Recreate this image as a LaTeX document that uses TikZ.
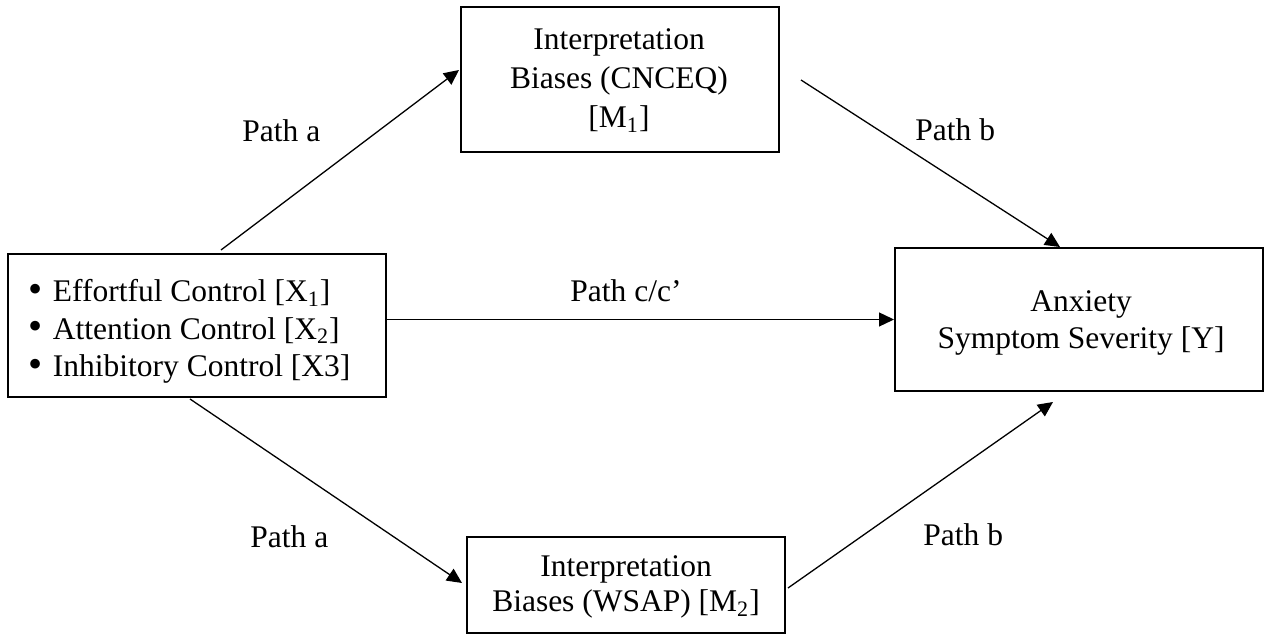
\documentclass[tikz,border=0pt]{standalone}
\usepackage{fontspec}
\usepackage{graphicx}
\setmainfont{Liberation Serif}
\usetikzlibrary{arrows.meta,calc}
\newcommand{\itembullet}{\makebox[12.25pt][l]{\smash{\raisebox{-0.4pt}{\scalebox{1.28}{\textbullet}}}}}
\begin{document}
\begin{tikzpicture}[x=0.5pt,y=-0.5pt,
  box/.style={draw,line width=1pt,inner sep=0pt,rectangle},
  link/.style={line width=0.65pt,-{Triangle[length=7.5pt,width=7pt]}},
  txt/.style={inner sep=0pt,anchor=base},
  lbl/.style={inner sep=0pt,anchor=base west,font=\fontsize{15.75pt}{18pt}\selectfont}]
\useasboundingbox (0,0) rectangle (1264,635);

% boxes
\node[box,minimum width=189pt,minimum height=71.5pt] (X)  at (197,325.5) {};
\node[box,minimum width=159pt,minimum height=72.5pt] (M1) at (620,79.5) {};
\node[box,minimum width=184pt,minimum height=71.5pt] (Y)  at (1079,319.5) {};
\node[box,minimum width=159pt,minimum height=48pt]   (M2) at (626,585) {};

% box texts
\node[txt,anchor=base west,font=\fontsize{15.75pt}{18.75pt}\selectfont] (xt) at (28,301.7)
  {\begin{tabular}[t]{@{}l@{}}
   \itembullet Effortful Control [X\textsubscript{1}]\\
   \itembullet Attention Control [X\textsubscript{2}]\\
   \itembullet Inhibitory Control [X3]
   \end{tabular}};
\node[txt,font=\fontsize{15.75pt}{19.5pt}\selectfont] (m1t) at (619,50)
  {\begin{tabular}[t]{@{}c@{}}Interpretation\\Biases (CNCEQ)\\{[M\textsubscript{1}]}\end{tabular}};
\node[txt,font=\fontsize{15.75pt}{18.35pt}\selectfont] (yt) at (1081,311.7)
  {\begin{tabular}[t]{@{}c@{}}Anxiety\\Symptom Severity [Y]\end{tabular}};
\node[txt,font=\fontsize{15.75pt}{17.5pt}\selectfont] (m2t) at (626,576.7)
  {\begin{tabular}[t]{@{}c@{}}Interpretation\\Biases (WSAP) [M\textsubscript{2}]\end{tabular}};

% path labels
\node[lbl] (pa1) at (242,141.7) {Path a};
\node[lbl] (pb1) at (915,141) {Path b};
\node[lbl] (pa2) at (250,547.3) {Path a};
\node[lbl] (pb2) at (923,546) {Path b};
\node[lbl,anchor=base] (pc) at (626,301.7) {Path c/c’};

% connectors
\draw[link] ($(X.north)+(24,-3)$) -- ($(M1.west)+(-1,-9.5)$);
\draw[link] ($(X.south)+(-7,1)$) -- ($(M2.west)+(-4,-2)$);
\draw[link] (X.east |- Y.west) -- (Y.west);
\draw[link] ($(M1.east)+(21,0.5)$) -- ($(Y.north)+(-19,0)$);
\draw[link] ($(M2.east)+(2,3)$) -- ($(Y.south)+(-26,10)$);
\end{tikzpicture}
\end{document}
